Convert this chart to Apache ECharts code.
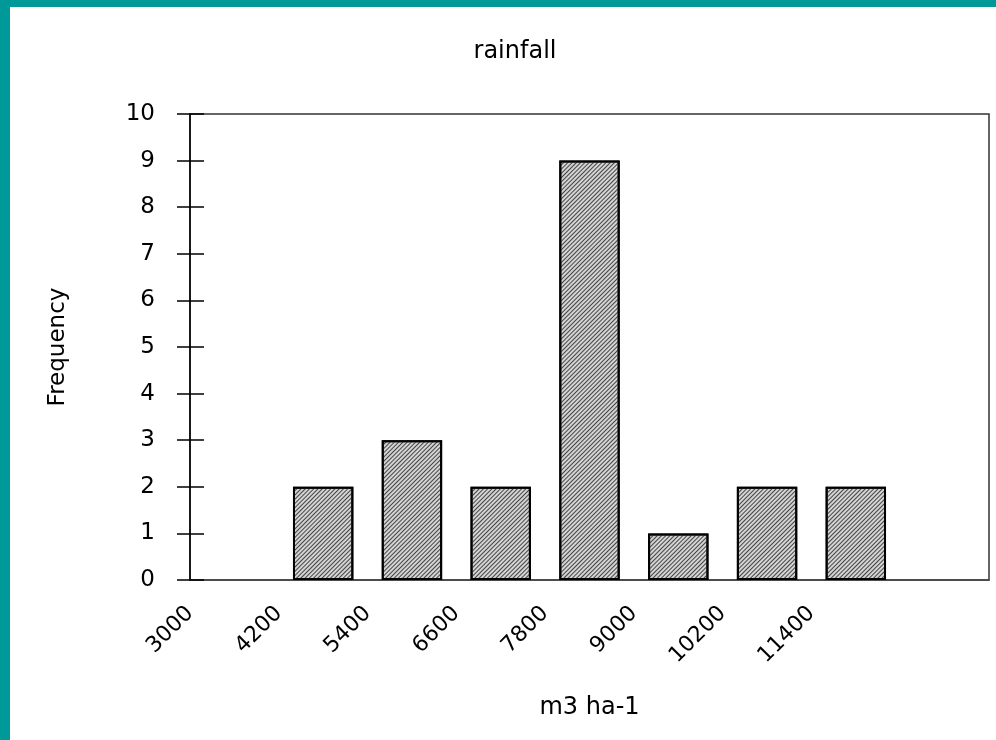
<!DOCTYPE html>
<html>
<head>
<meta charset="utf-8">
<script src="https://cdn.jsdelivr.net/npm/echarts@6/dist/echarts.min.js"></script>
<style>
  html, body { margin: 0; padding: 0; background: #009999; }
  #chart { position: absolute; left: 10px; top: 7px; width: 986px; height: 733px; background: #fff; }
</style>
</head>
<body>
<div id="chart"></div>
<script>
// bins of the histogram (left edge of each class) and counts
const binStarts = ['3000', '4200', '5400', '6600', '7800', '9000', '10200', '11400', '12600'];
const frequencies = [0, 2, 3, 2, 9, 1, 2, 2, 0];
// labels written under the class boundaries (the last two boundaries stay blank)
const xTickLabels = ['3000', '4200', '5400', '6600', '7800', '9000', '10200', '11400'];

const edgeCount = binStarts.length + 1;
const edgeLabels = [];
for (let i = 0; i < edgeCount; i++) edgeLabels.push(xTickLabels[i] || '');

const chart = echarts.init(document.getElementById('chart'), null, { renderer: 'canvas' });

const font = 'DejaVu Sans';

chart.setOption({
  backgroundColor: '#fff',
  animation: false,
  title: {
    text: 'rainfall',
    left: 500,
    top: 28,
    textAlign: 'center',
    textStyle: { fontFamily: font, fontSize: 24, fontWeight: 'normal', color: '#000' }
  },
  grid: {
    left: 180, top: 107, right: 7, bottom: 160,
    show: true,
    borderColor: '#333',
    borderWidth: 1.5,
    backgroundColor: 'transparent'
  },
  xAxis: [
    {
      type: 'category',
      data: binStarts,
      boundaryGap: true,
      axisLine: { show: true, lineStyle: { color: '#444', width: 1.5 } },
      axisTick: { show: false },
      axisLabel: { show: false },
      name: 'm3 ha-1',
      nameLocation: 'middle',
      nameGap: 116,
      nameTextStyle: { fontFamily: font, fontSize: 24, color: '#000' }
    },
    {
      type: 'category',
      data: edgeLabels,
      boundaryGap: false,
      position: 'bottom',
      axisLine: { show: false },
      axisTick: { show: false },
      axisLabel: {
        interval: 0,
        rotate: 45,
        margin: 30,
        fontFamily: font,
        fontSize: 22,
        color: '#000'
      }
    }
  ],
  yAxis: [
    {
      type: 'value',
      min: 0,
      max: 10,
      interval: 1,
      position: 'left',
      axisLine: { show: true, lineStyle: { color: '#000', width: 1.5 } },
      axisTick: { show: true, length: 13, lineStyle: { color: '#000', width: 1.5 } },
      splitLine: { show: false },
      axisLabel: { margin: 35, fontFamily: font, fontSize: 23, color: '#000' },
      name: 'Frequency',
      nameLocation: 'middle',
      nameGap: 120,
      nameTextStyle: { fontFamily: font, fontSize: 23, color: '#000' }
    },
    {
      type: 'value',
      min: 0,
      max: 10,
      interval: 1,
      position: 'left',
      axisLine: { show: false },
      axisTick: { show: true, inside: true, length: 14, lineStyle: { color: '#000', width: 1.5 } },
      splitLine: { show: false },
      axisLabel: { show: false }
    }
  ],
  series: [{
    type: 'bar',
    xAxisIndex: 0,
    yAxisIndex: 0,
    // empty classes get no bar outline
    data: frequencies.map(v => (v === 0 ? '-' : v)),
    barCategoryGap: '32%',
    itemStyle: {
      color: '#d4d4d4',
      borderColor: '#000',
      borderWidth: 2,
      decal: {
        symbol: 'rect',
        symbolSize: 1,
        color: '#444',
        dashArrayX: [1, 0],
        dashArrayY: [1, 2],
        rotation: -Math.PI / 4
      }
    }
  }]
});
</script>
</body>
</html>
